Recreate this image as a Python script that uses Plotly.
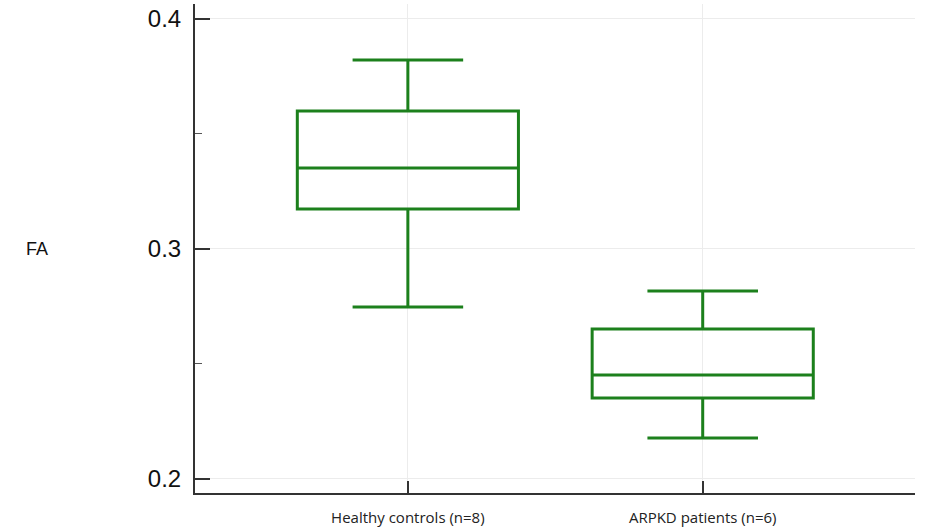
import plotly.graph_objects as go

categories = ["Healthy controls (n=8)", "ARPKD patients (n=6)"]
lower_whisker = [0.2748, 0.2178]
q1_values = [0.3174, 0.2352]
median_values = [0.3352, 0.2452]
q3_values = [0.3600, 0.2652]
upper_whisker = [0.3822, 0.2817]
y_tick_vals = [0.2, 0.3, 0.4]
y_tick_text = ["0.2", "0.3", "0.4"]

green = "rgb(28,128,28)"
axis_col = "#333333"

fig = go.Figure()
fig.add_trace(go.Box(
    x=categories,
    q1=q1_values,
    median=median_values,
    q3=q3_values,
    lowerfence=lower_whisker,
    upperfence=upper_whisker,
    fillcolor="rgba(255,255,255,0)",
    line=dict(color=green, width=3),
    whiskerwidth=0.5,
    boxpoints=False,
    showlegend=False,
    hoverinfo="skip",
))

fig.update_layout(
    width=927, height=529,
    margin=dict(l=195, r=12, t=4, b=36),
    paper_bgcolor="white", plot_bgcolor="white",
    boxgap=0.25, boxgroupgap=0,
    font=dict(family="Liberation Sans, Arial", color="#111111"),
)
fig.update_xaxes(
    type="category",
    range=[-0.722, 1.72],
    automargin=False,
    showline=True, linecolor=axis_col, linewidth=2,
    ticks="inside", ticklen=12, tickwidth=1.5, tickcolor=axis_col,
    showgrid=True, gridcolor="#ececec", gridwidth=1,
    tickfont=dict(family="Open Sans, Noto Sans", size=15, color="#222222"),
    ticklabelstandoff=10,
    zeroline=False,
)
fig.update_yaxes(
    range=[0.1939, 0.4065],
    automargin=False,
    tickvals=y_tick_vals, ticktext=y_tick_text,
    showline=True, linecolor=axis_col, linewidth=2,
    ticks="inside", ticklen=15, tickwidth=1.5, tickcolor=axis_col,
    minor=dict(tickvals=[0.25, 0.35], ticks="inside", ticklen=7, tickwidth=1, tickcolor="#555555", showgrid=False),
    showgrid=True, gridcolor="#ececec", gridwidth=1,
    tickfont=dict(family="Liberation Sans, Arial", size=24, color="#111111"),
    ticklabelstandoff=7,
    zeroline=False,
)
fig.add_annotation(
    text="FA", xref="paper", yref="y", x=(37 - 195) / 720, y=0.3,
    xanchor="center", yanchor="middle", showarrow=False,
    font=dict(family="Liberation Sans, Arial", size=18, color="#111111"),
)

fig.write_html("out.html", config={"displayModeBar": False},
               post_script="document.body.style.margin='0';")
